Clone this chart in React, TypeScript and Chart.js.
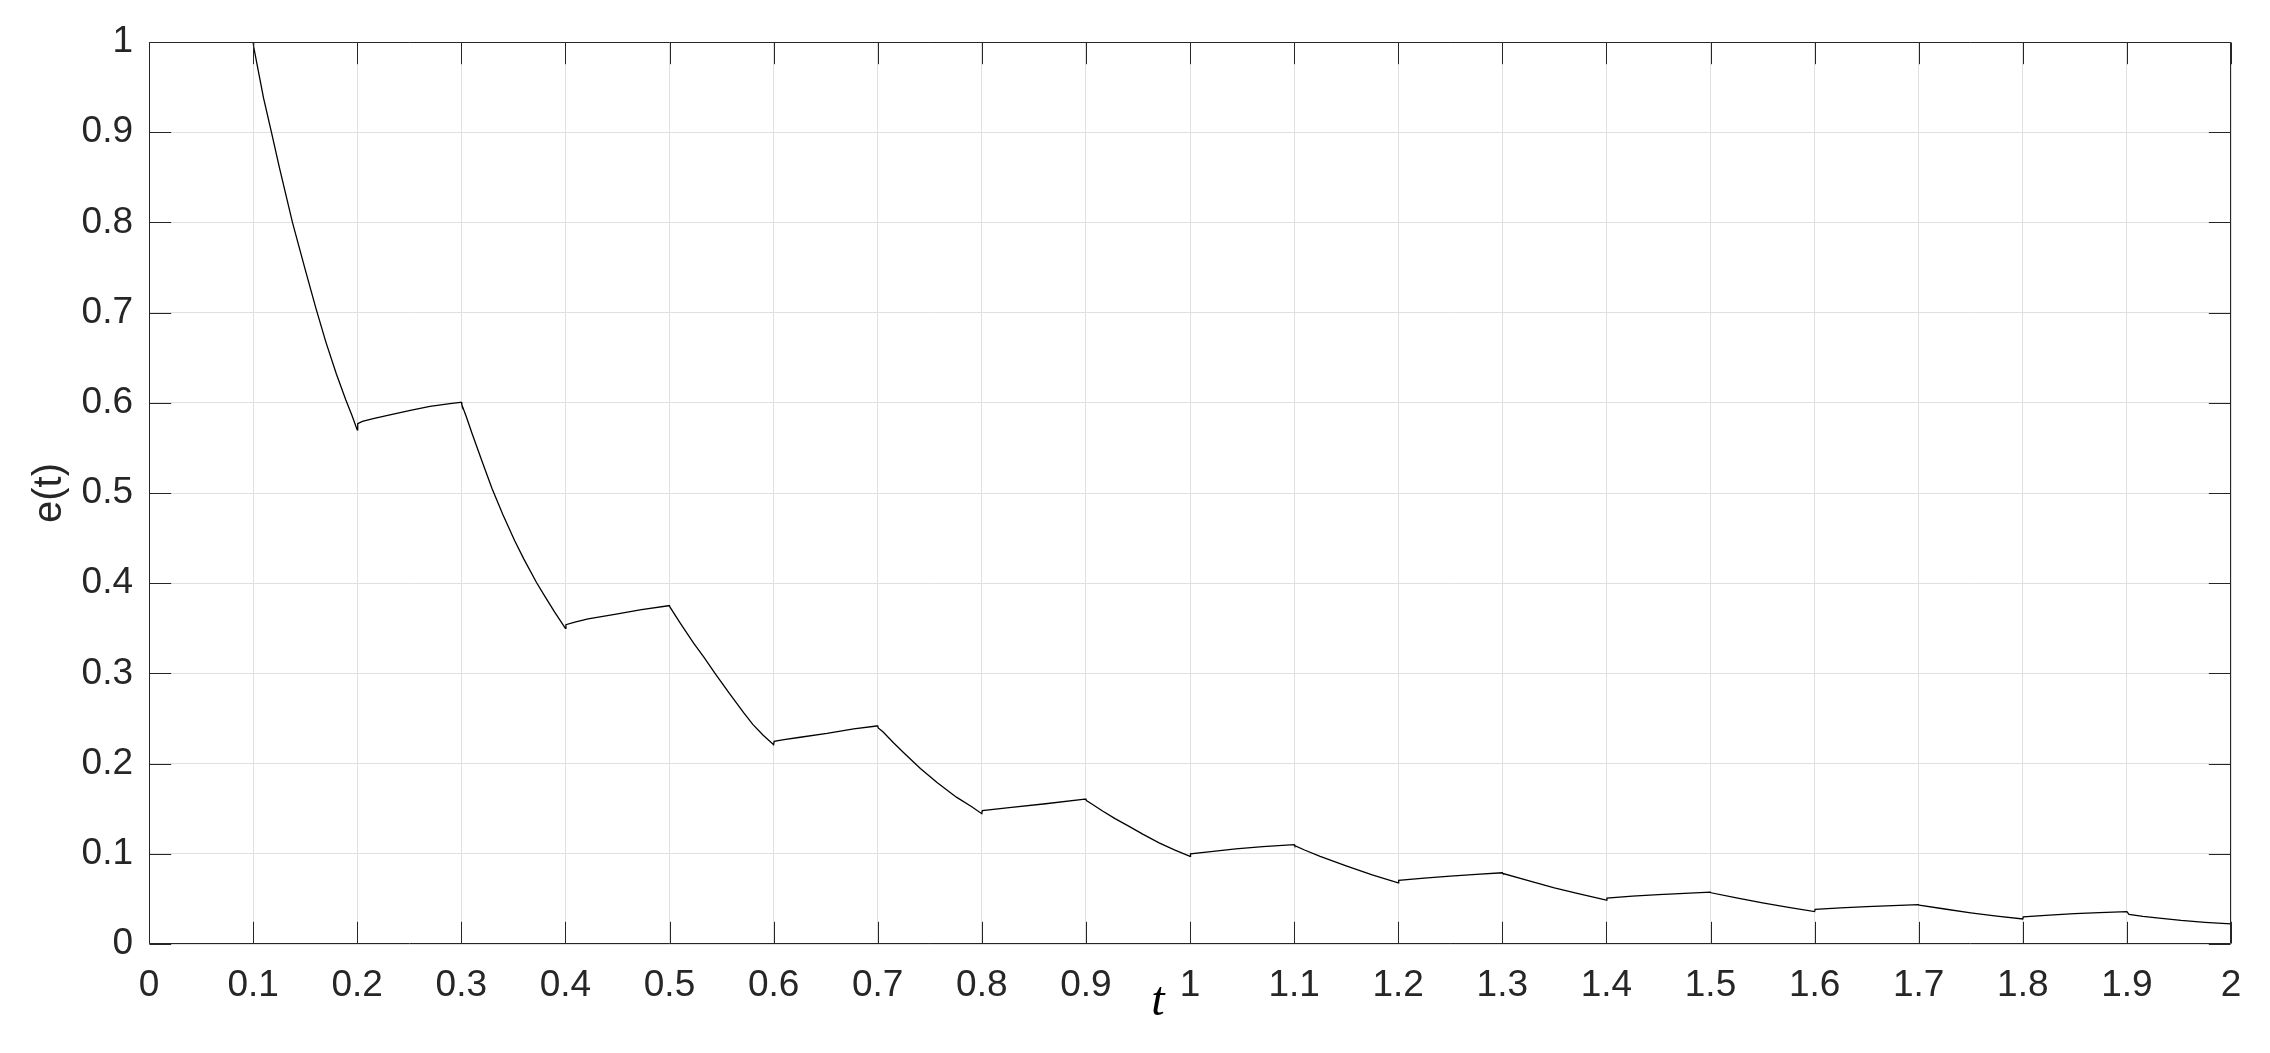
import React, { useEffect, useRef } from "react";
import { Chart, registerables } from "chart.js";

Chart.register(...registerables);

// time samples
const tValues = [
  0.1, 0.1005, 0.105, 0.11, 0.1176, 0.125, 0.1378, 0.15, 0.1603, 0.17, 0.18, 0.1891, 0.195, 0.2,
  0.2005, 0.205, 0.2154, 0.2314, 0.2522, 0.2699, 0.2891, 0.299, 0.3,
  0.3005, 0.305, 0.31, 0.315, 0.32, 0.3295, 0.34, 0.3513, 0.36, 0.3721, 0.38, 0.3897, 0.4,
  0.4005, 0.41, 0.4218, 0.4474, 0.4731, 0.499, 0.5,
  0.5005, 0.51, 0.523, 0.533, 0.5439, 0.557, 0.5712, 0.58, 0.59, 0.6,
  0.6005, 0.61, 0.6256, 0.6513, 0.677, 0.699, 0.7,
  0.7005, 0.705, 0.7154, 0.725, 0.741, 0.757, 0.7756, 0.79, 0.8,
  0.8005, 0.8263, 0.8613, 0.899, 0.9,
  0.9005, 0.905, 0.916, 0.928, 0.9415, 0.955, 0.9703, 0.985, 1.0,
  1.0005, 1.02, 1.044, 1.07, 1.1,
  1.1005, 1.11, 1.125, 1.15, 1.175, 1.2,
  1.2005, 1.225, 1.25, 1.275, 1.3,
  1.3005, 1.325, 1.35, 1.375, 1.4,
  1.4005, 1.425, 1.45, 1.475, 1.5,
  1.5005, 1.525, 1.55, 1.575, 1.6,
  1.6005, 1.625, 1.65, 1.675, 1.7,
  1.7005, 1.725, 1.75, 1.775, 1.8,
  1.8005, 1.8256, 1.8497, 1.8737, 1.9,
  1.902, 1.9154, 1.931, 1.952, 1.975, 2.0,
];

// error values
const eValues = [
  1.0, 0.995, 0.968, 0.938, 0.9, 0.862, 0.8, 0.748, 0.705, 0.667, 0.632, 0.603, 0.586, 0.57,
  0.577, 0.5795, 0.5824, 0.5866, 0.592, 0.596, 0.599, 0.6005, 0.6005,
  0.598, 0.584, 0.567, 0.551, 0.535, 0.505, 0.476, 0.447, 0.427, 0.401, 0.386, 0.368, 0.35,
  0.354, 0.357, 0.3605, 0.3655, 0.3707, 0.375, 0.375,
  0.3735, 0.3564, 0.3338, 0.318, 0.2998, 0.2788, 0.2565, 0.2435, 0.2315, 0.221,
  0.2246, 0.2265, 0.2292, 0.2335, 0.2385, 0.2417, 0.2417,
  0.2395, 0.2352, 0.2228, 0.212, 0.1945, 0.179, 0.1628, 0.1525, 0.1445,
  0.148, 0.1512, 0.1555, 0.1605, 0.1605,
  0.159, 0.1558, 0.1475, 0.139, 0.1304, 0.1215, 0.1122, 0.1043, 0.0971,
  0.1, 0.1025, 0.1055, 0.108, 0.1102,
  0.109, 0.1042, 0.0972, 0.0866, 0.0766, 0.0677,
  0.0705, 0.0731, 0.0753, 0.0772, 0.079,
  0.0782, 0.0702, 0.0623, 0.0552, 0.0486,
  0.051, 0.053, 0.0548, 0.0562, 0.0575,
  0.0568, 0.0512, 0.0456, 0.0406, 0.0359,
  0.0385, 0.04, 0.0414, 0.0425, 0.0436,
  0.043, 0.0388, 0.0346, 0.0309, 0.0277,
  0.03, 0.0321, 0.0336, 0.0347, 0.0358,
  0.0328, 0.0306, 0.0288, 0.0262, 0.024, 0.0222,
];

const xTickValues = [0, 0.1, 0.2, 0.3, 0.4, 0.5, 0.6, 0.7, 0.8, 0.9, 1, 1.1, 1.2, 1.3, 1.4, 1.5, 1.6, 1.7, 1.8, 1.9, 2];
const xTickLabels = ["0", "0.1", "0.2", "0.3", "0.4", "0.5", "0.6", "0.7", "0.8", "0.9", "1", "1.1", "1.2", "1.3", "1.4", "1.5", "1.6", "1.7", "1.8", "1.9", "2"];
const yTickValues = [0, 0.1, 0.2, 0.3, 0.4, 0.5, 0.6, 0.7, 0.8, 0.9, 1];
const yTickLabels = ["0", "0.1", "0.2", "0.3", "0.4", "0.5", "0.6", "0.7", "0.8", "0.9", "1"];

const xTitle = "t";
const yTitle = "e(t)";

const AXIS_COLOR = "#262626";
const GRID_COLOR = "#e0e0e0";
const FONT = "'Liberation Sans', Arial, Helvetica, sans-serif";
const TICK_LEN = 21.7;

const boxPlugin = {
  id: "matlabBox",
  afterDraw(chart: any) {
    const { ctx, chartArea } = chart;
    const xs = chart.scales.x;
    const ys = chart.scales.y;
    const L = Math.round(chartArea.left) + 0.5;
    const R = Math.round(chartArea.right) - 0.5;
    const T = Math.round(chartArea.top) + 0.5;
    const B = Math.round(chartArea.bottom) - 0.5;
    ctx.save();
    ctx.strokeStyle = AXIS_COLOR;
    ctx.lineWidth = 1;
    ctx.beginPath();
    ctx.rect(L, T, R - L, B - T);
    ctx.stroke();
    ctx.beginPath();
    for (const v of xTickValues) {
      const px = Math.round(xs.getPixelForValue(v)) + 0.5;
      ctx.moveTo(px, B);
      ctx.lineTo(px, B - TICK_LEN);
      ctx.moveTo(px, T);
      ctx.lineTo(px, T + TICK_LEN);
    }
    for (const v of yTickValues) {
      const py = Math.round(ys.getPixelForValue(v)) + 0.5;
      ctx.moveTo(L, py);
      ctx.lineTo(L + TICK_LEN, py);
      ctx.moveTo(R, py);
      ctx.lineTo(R - TICK_LEN, py);
    }
    ctx.stroke();

    // y title
    ctx.fillStyle = AXIS_COLOR;
    ctx.font = `40px ${FONT}`;
    ctx.textAlign = "center";
    ctx.textBaseline = "middle";
    ctx.translate(50, (chartArea.top + chartArea.bottom) / 2);
    ctx.rotate(-Math.PI / 2);
    ctx.fillText(yTitle, 0, 0);
    ctx.restore();

    // x title
    ctx.save();
    ctx.fillStyle = "#000";
    ctx.font = `italic 48px 'Liberation Serif', 'DejaVu Serif', serif`;
    ctx.textAlign = "center";
    ctx.textBaseline = "alphabetic";
    ctx.fillText(xTitle, 1158, 1015);
    ctx.restore();
  },
};

export default function App() {
  const ref = useRef<HTMLCanvasElement>(null);
  useEffect(() => {
    document.body.style.margin = "0";
    const canvas = ref.current!;
    const chart = new Chart(canvas, {
      type: "line",
      data: {
        datasets: [
          {
            data: tValues.map((t, i) => ({ x: t, y: eValues[i] })),
            borderColor: "#000",
            borderWidth: 1.3,
            pointRadius: 0,
            fill: false,
            tension: 0,
          },
        ],
      },
      options: {
        animation: false,
        responsive: false,
        maintainAspectRatio: false,
        layout: { padding: { top: 42, right: 39, left: 0, bottom: 0 } },
        plugins: { legend: { display: false }, tooltip: { enabled: false } },
        scales: {
          x: {
            type: "linear",
            min: 0,
            max: 2,
            afterFit: (s: any) => {
              s.height = 109;
            },
            afterBuildTicks: (s: any) => {
              s.ticks = xTickValues.map((v) => ({ value: v }));
            },
            ticks: {
              callback: (_v: any, i: number) => xTickLabels[i],
              font: { family: FONT, size: 37 },
              color: AXIS_COLOR,
              padding: 20,
              maxRotation: 0,
              autoSkip: false,
            },
            grid: { color: GRID_COLOR, drawTicks: false, lineWidth: 1 },
            border: { display: false },
          },
          y: {
            type: "linear",
            min: 0,
            max: 1,
            afterFit: (s: any) => {
              s.width = 149;
            },
            afterBuildTicks: (s: any) => {
              s.ticks = yTickValues.map((v) => ({ value: v }));
            },
            ticks: {
              callback: (_v: any, i: number) => yTickLabels[i],
              font: { family: FONT, size: 37 },
              color: AXIS_COLOR,
              padding: 16,
              autoSkip: false,
            },
            grid: { color: GRID_COLOR, drawTicks: false, lineWidth: 1 },
            border: { display: false },
          },
        },
      },
      plugins: [boxPlugin],
    } as any);
    return () => chart.destroy();
  }, []);
  return <canvas ref={ref} width={2270} height={1053} style={{ display: "block" }} />;
}
